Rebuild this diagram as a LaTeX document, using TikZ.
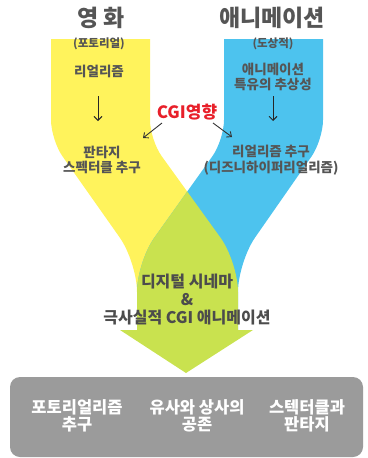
\documentclass[tikz,border=0pt]{standalone}
\usepackage{fontspec}
\setmainfont{Noto Sans CJK KR}
\usetikzlibrary{arrows.meta}
\definecolor{yband}{HTML}{FFF35C}
\definecolor{bband}{HTML}{4DC3EE}
\definecolor{gband}{HTML}{C9E24F}
\definecolor{gbox}{HTML}{9B9B9B}
\definecolor{tgray}{HTML}{555555}
\definecolor{tred}{HTML}{E8202A}
\tikzset{
  title/.style={text=tgray, font=\fontsize{23}{25}\selectfont\bfseries, inner sep=0pt},
  small/.style={text=tgray, font=\fontsize{11.5}{13}\selectfont\bfseries, inner sep=0pt},
  band/.style={text=tgray, font=\fontsize{13.5}{15.5}\selectfont\bfseries, align=center, inner sep=0pt},
  center/.style={text=tgray!90!black, font=\fontsize{16}{18}\selectfont\bfseries, align=center, inner sep=0pt},
  boxtxt/.style={text=white, font=\fontsize{16.5}{17.5}\selectfont\bfseries, align=center, inner sep=0pt},
  darr/.style={draw=black!85, line width=0.9pt, -{Straight Barb[length=4pt,width=8pt]}},
  carr/.style={draw=black!80, line width=0.9pt, -{Straight Barb[length=4pt,width=7pt]}},
}
\begin{document}
\begin{tikzpicture}[x=1pt,y=-1pt]
\useasboundingbox (0,0) rectangle (367,458);
\def\ypath{(51,39) -- (150,39) [rounded corners=20pt] -- (150,140) [rounded corners=30pt] -- (238,262) [sharp corners] -- (238,335) -- (137,335) [rounded corners=30pt] -- (137,262) [rounded corners=20pt] -- (51,140) [sharp corners] -- cycle}
\def\bpath{(224,39) -- (323,39) [rounded corners=20pt] -- (323,140) [rounded corners=30pt] -- (238,262) [sharp corners] -- (238,335) -- (137,335) [rounded corners=30pt] -- (137,262) [rounded corners=20pt] -- (224,140) [sharp corners] -- cycle}
\fill[yband] \ypath;
\fill[bband] \bpath;
\begin{scope}
  \clip \ypath;
  \fill[gband] \bpath;
\end{scope}
\fill[gband] (120,330) -- (253,330) -- (186,373) -- cycle;
% gray box
\fill[gbox, rounded corners=10pt] (10,377) rectangle (363,457);
% titles
\node[title] (t1) at (101,18) {영 화};
\node[title] (t2) at (272,18) {애니메이션};
\node[small] (s1) at (99,44) {(포토리얼)};
\node[small] (s2) at (273,44) {(도상적)};
\node[band] (l1) at (99,71) {리얼리즘};
\node[band] (r1) at (273,77) {애니메이션\\특유의 추상성};
\node[band] (l2) at (102,160) {판타지\\스펙터클 추구};
\node[band] (r2) at (271,160) {리얼리즘 추구\\(디즈니하이퍼리얼리즘)};
\node[text=tred, font=\fontsize{17}{19}\selectfont\bfseries, inner sep=0pt] (cgi) at (187,112) {CGI영향};
% arrows
\coordinate (la) at (98,96); \coordinate (lb) at (98,121);
\coordinate (ra) at (273,96); \coordinate (rb) at (273,121);
\draw[darr] (la) -- (lb);
\draw[darr] (ra) -- (rb);
\coordinate (ca) at (162,123); \coordinate (cb) at (143,138);
\coordinate (cc) at (213,123); \coordinate (cd) at (232,137);
\draw[carr] (ca) -- (cb);
\draw[carr] (cc) -- (cd);
% center
\node[center] (mid) at (187,300) {디지털 시네마\\\&\\극사실적 CGI 애니메이션};
% box texts
\node[boxtxt] (b1) at (77,416) {포토리얼리즘\\추구};
\node[boxtxt] (b2) at (197,416) {유사와 상사의\\공존};
\node[boxtxt] (b3) at (307,416) {스텍터클과\\판타지};
\end{tikzpicture}
\end{document}
